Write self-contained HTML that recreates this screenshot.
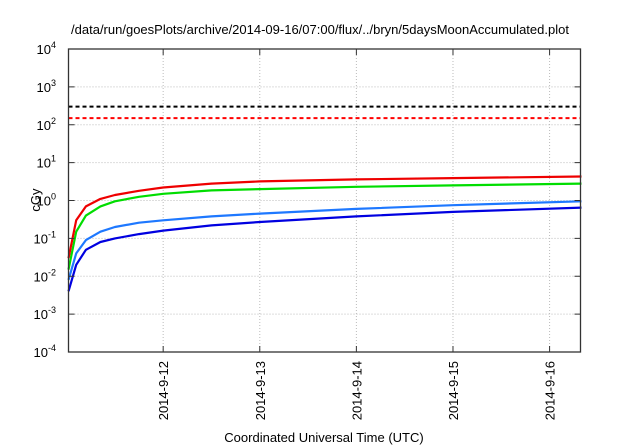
<!DOCTYPE html>
<html><head><meta charset="utf-8"><style>
body{margin:0;background:#fff;}
svg{display:block;font-family:"Liberation Sans",sans-serif;}
</style></head><body>
<svg id="c" width="640" height="448">
<text x="320" y="34" text-anchor="middle" font-size="13">/data/run/goesPlots/archive/2014-09-16/07:00/flux/../bryn/5daysMoonAccumulated.plot</text>
<text x="324" y="442" text-anchor="middle" font-size="13">Coordinated Universal Time (UTC)</text>
<text transform="translate(40,200) rotate(-90)" text-anchor="middle" font-size="13">cGy</text>
<g id="grid"></g><g id="marks"></g><g id="axes"></g>
</svg>
<script>
const xTicks=[1,2,3,4,5];
const xTickLabels=["2014-9-12","2014-9-13","2014-9-14","2014-9-15","2014-9-16"];
const yTickExps=[-4,-3,-2,-1,0,1,2,3,4];
const thresholdValues=[300,150];
const thresholdColors=["#000","#f00"];
const tDays=[0.02,0.1,0.2,0.35,0.5,0.75,1,1.5,2,3,4,5.33];
const redSeries=[0.03,0.3,0.7,1.1,1.4,1.8,2.2,2.8,3.2,3.6,3.9,4.3];
const greenSeries=[0.015,0.15,0.4,0.7,0.95,1.25,1.5,1.85,2.0,2.3,2.5,2.8];
const lightBlueSeries=[0.008,0.04,0.09,0.15,0.2,0.26,0.3,0.38,0.45,0.6,0.75,0.95];
const blueSeries=[0.004,0.02,0.05,0.08,0.1,0.13,0.16,0.22,0.27,0.38,0.5,0.65];
const L=68.5,R=580.5,T=49,B=352,X0=0.02,X1=5.32;
const sx=v=>L+(v-X0)/(X1-X0)*(R-L);
const sy=v=>T+(4-Math.log10(v))/8*(B-T);
const NS="http://www.w3.org/2000/svg";
function mk(tag,parent,attrs){const e=document.createElementNS(NS,tag);for(const k in attrs)e.setAttribute(k,attrs[k]);document.getElementById(parent).appendChild(e);return e;}
yTickExps.forEach(p=>{const y=sy(Math.pow(10,p));
 if(p>-4&&p<4){const g=mk("line","grid",{x1:L,x2:R,y1:y,y2:y,stroke:"#bbb","stroke-dasharray":"1,2"});
 
 }
 const t=mk("line","axes",{x1:L,x2:L+6,y1:y,y2:y,stroke:"#333"});
 
 
 const t2=mk("line","axes",{x1:R,x2:R-6,y1:y,y2:y,stroke:"#333"});
 
 
 const tx=mk("text","axes",{x:56,y:y+5,"text-anchor":"end","font-size":"13"});
 
 
 tx.innerHTML="10<tspan dy='-6' font-size='9'>"+p+"</tspan>";
});
xTicks.forEach((d,i)=>{const x=sx(d);
 const g=mk("line","grid",{x1:x,x2:x,y1:T,y2:B,stroke:"#bbb","stroke-dasharray":"1,2"});
 
 
 const t=mk("line","axes",{x1:x,x2:x,y1:B,y2:B-6,stroke:"#333"});
 
 
 const t2=mk("line","axes",{x1:x,x2:x,y1:T,y2:T+6,stroke:"#333"});
 
 
 const tx=mk("text","axes",{transform:`translate(${x+5},361) rotate(-90)`,"text-anchor":"end","font-size":"13"});
 
 
 tx.textContent=xTickLabels[i];
});
thresholdValues.forEach((v,i)=>{const y=sy(v);
 const l=mk("line","marks",{x1:L,x2:R,y1:y,y2:y,stroke:thresholdColors[i],"stroke-width":2,"stroke-dasharray":"4,3"});
 
 
});
[[blueSeries,"#0000e0"],[lightBlueSeries,"#1e78ff"],[greenSeries,"#00dd00"],[redSeries,"#ee0000"]].forEach(([s,c])=>{
 const d=s.map((v,i)=>(i?"L":"M")+sx(tDays[i]).toFixed(1)+","+sy(v).toFixed(1)).join("");
 const p=mk("path","marks",{d:d,fill:"none",stroke:c,"stroke-width":2.2,"stroke-linejoin":"round"});
 
 
});
const f=mk("rect","axes",{x:L,y:T,width:R-L,height:B-T,fill:"none",stroke:"#333","stroke-width":1.3});


</script>
</body></html>
